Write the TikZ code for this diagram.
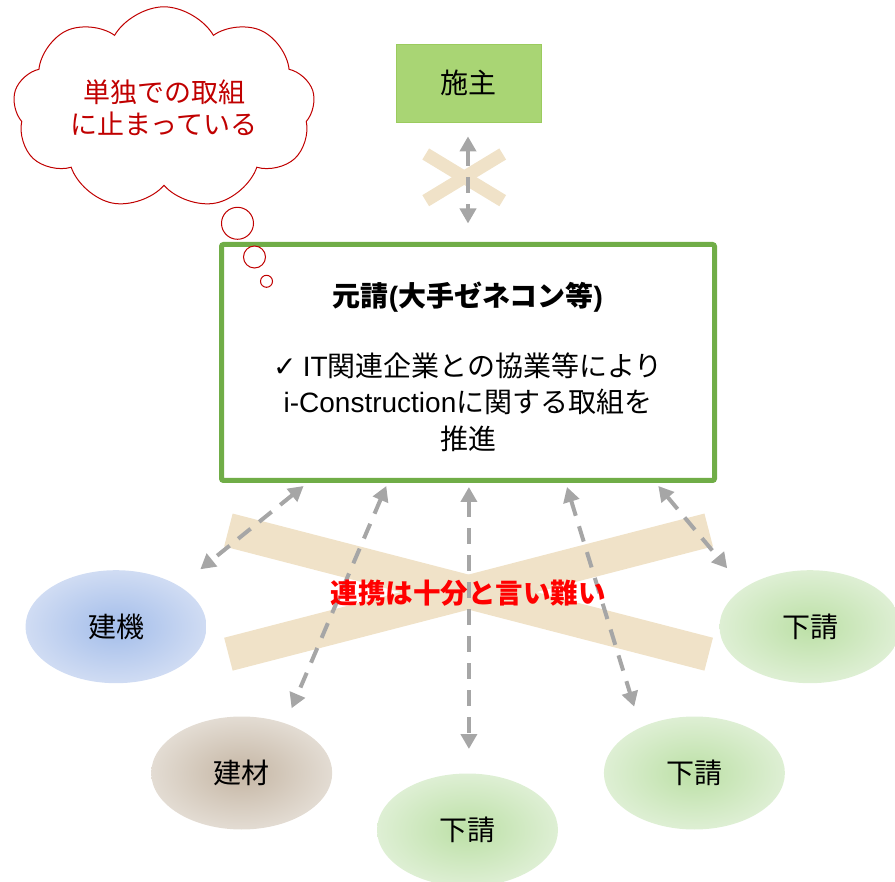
\documentclass[tikz,border=0pt]{standalone}
\usepackage{fontspec}
\setmainfont{Noto Sans CJK JP}
\newfontfamily\lat{Liberation Sans}
\newfontfamily\sym{DejaVu Sans}
\usetikzlibrary{shapes.geometric,shapes.symbols,arrows.meta}
\definecolor{boxgreen}{HTML}{70AD47}
\definecolor{ownerfill}{HTML}{A9D574}
\definecolor{ownerline}{HTML}{9BCB5E}
\definecolor{beige}{HTML}{F0E2C8}
\definecolor{arrowgray}{HTML}{A6A6A6}
\definecolor{cloudred}{HTML}{C00000}
\definecolor{warnred}{HTML}{FF0000}
\definecolor{bluein}{HTML}{A3BDEA}
\definecolor{blueout}{HTML}{D0DCF3}
\definecolor{brownin}{HTML}{C5B6A4}
\definecolor{brownout}{HTML}{E3DCD3}
\definecolor{greenin}{HTML}{BCE0A6}
\definecolor{greenout}{HTML}{DEEFD4}
\begin{document}
\begin{tikzpicture}[x=1pt,y=-1pt,
  font=\fontsize{28}{36.5}\selectfont,
  conn/.style={draw=arrowgray, line width=4pt, dash pattern=on 16pt off 11pt,
    {Triangle[width=16pt,length=15pt]}-{Triangle[width=16pt,length=15pt]}},
  xbar/.style={draw=beige, line width=34pt},
  smallbar/.style={draw=beige, line width=13pt},
  party/.style={ellipse, minimum width=181pt, minimum height=113pt, inner sep=0pt},
  bubble/.style={circle, draw=cloudred, line width=1pt, fill=white, inner sep=0pt}]
\useasboundingbox (0,0) rectangle (895,882);

% big cross
\draw[xbar] (228.4,530) -- (708.7,654.2);
\draw[xbar] (228.4,654.2) -- (708.7,530);

% owner
\node[fill=ownerfill, draw=ownerline, line width=0.8pt, minimum width=145pt, minimum height=78pt] (owner) at (468.5,83) {施主};

% small cross
\draw[smallbar] (425.7,154) -- (502.7,200.7);
\draw[smallbar] (425.7,200.7) -- (502.7,154);

% main contractor box
\node[draw=boxgreen, line width=5pt, fill=white, rounded corners=2pt, minimum width=493pt, minimum height=236pt] (main) at (468,362.5) {};
\node[font=\fontsize{28}{36.5}\selectfont\bfseries] (maintitle) at (468,297) {元請{\lat (}大手ゼネコン等{\lat )}};
\node[align=center] (maintext) at (468,402) {{\sym ✓} {\lat IT}関連企業との協業等により\\{\lat i-Construction}に関する取組を\\推進};

% cloud
\node[cloud, draw=cloudred, line width=1pt, cloud puffs=9, cloud puff arc=120, aspect=1.65,
  minimum width=302pt, minimum height=178pt, inner sep=0pt, text=cloudred, align=center,
  font=\fontsize{27}{32}\selectfont] (cloud) at (164,108) {単独での取組\\に止まっている};
\node[bubble, minimum size=32pt] (bub1) at (237.5,223.3) {};
\node[bubble, minimum size=22pt] (bub2) at (254.5,257) {};
\node[bubble, minimum size=12pt] (bub3) at (266.5,281.3) {};

% parties
\node[party, inner color=bluein, outer color=blueout] (machine) at (116,626.7) {建機};
\node[party, inner color=brownin, outer color=brownout] (material) at (241.7,773) {建材};
\node[party, inner color=greenin, outer color=greenout] (subc) at (467.5,830) {下請};
\node[party, inner color=greenin, outer color=greenout] (subb) at (694.4,773) {下請};
\node[party, inner color=greenin, outer color=greenout] (suba) at (810,626.7) {下請};

% connectors
\draw[conn] ([yshift=-14pt]main.north |- owner.south) -- ([yshift=18.5pt]main.north);
\coordinate (t1) at (303.6,486);
\coordinate (t2) at (386.3,486);
\coordinate (t3) at (468.9,487);
\coordinate (t4) at (567,487);
\coordinate (t5) at (658.3,486);
\coordinate (e1) at (200.3,569.3);
\coordinate (e2) at (291.6,708.3);
\coordinate (e3) at (468.9,749);
\coordinate (e4) at (634.2,706.7);
\coordinate (e5) at (727.2,568.3);
\draw[conn] (t1) -- (e1);
\draw[conn] (t2) -- (e2);
\draw[conn] (t3) -- (e3);
\draw[conn] (t4) -- (e4);
\draw[conn] (t5) -- (e5);

% verdict
\node[text=warnred, font=\fontsize{27.5}{30}\selectfont\bfseries] (verdict) at (468,593) {連携は十分と言い難い};
\end{tikzpicture}
\end{document}
